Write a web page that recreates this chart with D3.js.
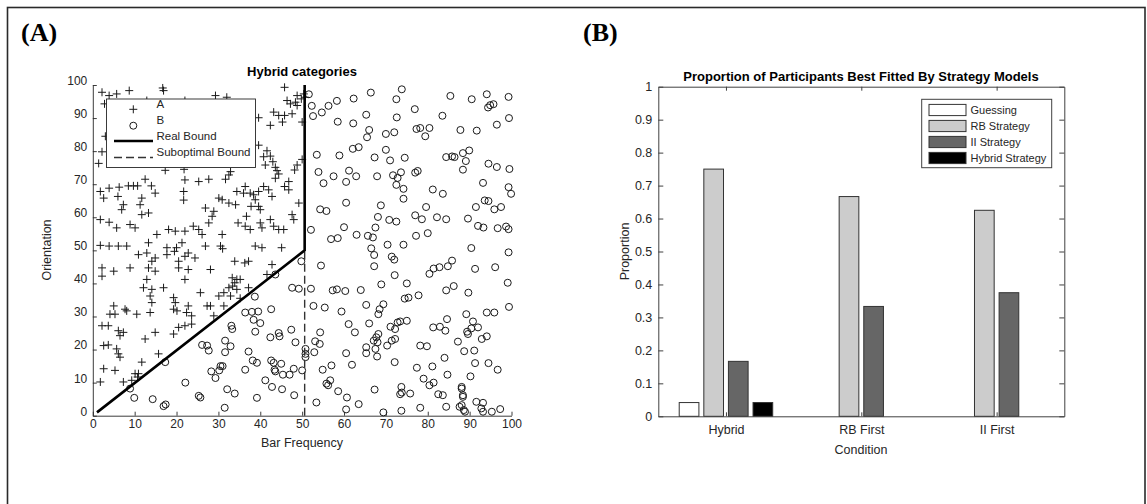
<!DOCTYPE html>
<html><head><meta charset="utf-8">
<script src="https://cdn.jsdelivr.net/npm/d3@7"></script>
<style>
body{margin:0;background:#fff}
svg{display:block}
text{font-family:"Liberation Sans",Arial,sans-serif;fill:#262626}
</style>
</head><body>
<svg id="fig" width="1147" height="504"></svg>
<script>
// ---- Panel A: stimuli of the hybrid category structure ----
// [bar frequency, orientation]
const categoryA = [
[2.2,97.8],[3.9,96.8],[5.7,97.3],[8.7,98.3],[16.7,99.1],[16.9,98.3],[2.8,94.3],[12.9,95.3],[22,95.3],[3,84.5],[2.2,79.8],[1.4,76.3],
[12.5,71.5],[14,69.5],[22,71.3],[21.8,74.5],[17.3,74.2],
[1.8,67.8],[3.9,68.8],[6.3,69.1],[2.6,65.8],[6,66.3],[8.5,69.5],[9.7,69.5],[10.7,69.5],[11.7,65.8],[14.9,67.3],[21.7,67.8],[21.7,65.2],
[7.3,63.8],[6.9,62.3],[11.3,63.8],[13.3,61.3],[11.7,60.8],
[1.8,59.3],[3.9,58.5],[5.7,56.8],[8.9,57.8],[10.1,56.8],[15.3,54.8],[18.1,56.3],[19.7,55.8],[22,55.8],[24,57.3],
[1.8,51.5],[3.9,51.3],[6.1,51.3],[8.1,51.3],[13.3,52.3],[17.7,50.8],[20,50.8],[21.3,52.3],
[29.3,96.8],[32,96.3],[45.8,99.3],[48.8,96.8],[49.8,95.8],[50.4,97.3],[50.7,96.3],[46.4,95.3],[47.2,94.3],[48.4,94.8],[48.8,93.8],
[43.2,91.8],[44.4,90.8],[45.8,90.8],[47.6,91.3],[45.3,88.8],[42.4,87.8],[39.6,90.1],[50,88.8],[39.6,81.8],
[41.6,80.1],[40.8,78.3],[42.4,78.5],[41.2,75.8],[43.6,75.1],[44,74.1],[43,76.8],[48.8,75.8],[48.2,74.3],[50,77.5],[44.4,73.1],[43.6,71.8],[46.8,70.8],
[36.4,69.3],[34.4,67.8],[36,67.3],[37.6,67.3],[39.6,67.8],[40.8,69.3],[42,68.3],[42.8,66.3],[38.4,66.8],[45.8,69.3],[46.8,68.3],
[30.1,65.8],[30.9,65.3],[32.5,64.3],[34.1,63.8],[38.8,65.3],[39.6,63.3],[40,62.3],[37.8,63.3],[49.2,64.3],
[26.9,62.8],[28.9,61.8],[28.5,60.3],[27.7,58.3],
[36.7,60.3],[34.7,58.3],[36.4,57.3],[37.6,56.3],[40,58.3],[40.4,56.8],[42.4,59.3],[43.2,57.3],[44.4,56.3],[45.6,56.3],[47.6,60.8],[48,59.3],
[25.3,56.3],[26.1,54.8],[30.9,54.8],
[26.9,51.3],[30.5,51.3],[31,50.5],[38.8,51.3],[40.4,50.8],[45.1,50.8],
[25.3,70.8],[27.7,71.5],[31.7,71.5],[32.5,72.8],[32.9,73.8],
[10.9,48.7],[12.9,49.2],[14.9,47.7],[17.7,48.7],[19.5,49.7],[22,48.2],[22.8,49.2],[24.4,47.7],
[2.2,44.7],[2.2,42.2],[5,43.7],[8.9,44.7],[13.3,44.7],[14.9,43.7],[14.1,46.7],[20.5,44.7],[22.8,44.2],[20.5,46.7],[22,41.2],
[12.9,41.2],[12.1,38.7],[14.1,38.2],[16.9,38.7],[13.7,36.2],[14.1,34.2],
[5,33.2],[7.7,32.2],[8.1,31.7],[4.1,30.7],[5.3,30.7],[10.5,30.7],[13.7,31.2],
[19.3,35.7],[19.7,34.2],[19.3,32.2],[20.1,31.7],[22.8,33.2],[22.4,31.2],[23.6,30.2],
[2.2,27.2],[3.7,27.2],[6.1,25.7],[7.3,25.2],[6.5,24.2],[14.9,25.2],[19.3,24.7],[20.5,26.7],[22,27.2],[23.6,27.7],
[12.5,23.2],[2.6,21.2],[3.7,21.4],[5.7,20.2],[6.1,18.7],[6.5,17.7],[15.7,18.7],[11.7,16.2],[2.6,14.2],[5.3,13.7],
[10.1,12.7],[10.9,12.7],[10.7,11.7],[1.8,10.2],[7.3,10.2],[9.3,10.7],
[28.1,44.2],[33.9,46.7],[36.3,46.2],[37.2,46.7],[42.8,45.7],[41.6,42.7],
[33.3,41.7],[34.4,41.2],[33.9,40.2],[35.2,41.2],
[32.5,38.7],[34.4,38.2],[33.4,39.2],[37.2,38.7],
[31.3,37.2],[30.1,36.2],[32.9,36.2],[25.7,37.2],
[27.3,33.2],[28.1,33.2],[28.9,30.2],[31.3,33.2],[35.2,35.5]
];
const categoryB = [
[49.8,46.7],[43.6,42.7],[47.6,38.7],[49.2,38.4],[38.7,36],[36.4,31.2],[38,31.4],[39.5,31.5],[38.4,29],[40,28],[42.6,32.2],
[33.1,27.2],[33.3,26.2],[38.8,25.4],[44.4,25],[44.6,24],[42.4,23.7],[47.4,26],[48.4,22.2],[26.1,21.4],[27.3,21.2],[27.7,19.7],
[31.6,22.7],[32.9,21],[31.6,19.2],[37.2,19.4],[38.2,16.7],[39.2,16],[36.4,13.9],[42.6,16.7],[43.2,16],[43.4,13.9],[43.6,13.4],
[45,15.7],[45.4,12.4],[47,12.4],[48,14.2],[50,13.7],[41.2,10.7],[42.8,8.7],[45.2,8],[48.1,6.2],[39.2,5.4],[28.3,13.4],[30.5,15],
[31,15],[30.2,13.7],[29.3,11.4],[32.1,8],[33.9,6.7],[25.3,6],[25.7,5.5],[31.5,2.4],[50.8,20.2],[50.8,18.7],[50.8,17.7],
[8.9,8.2],[9.9,5.4],[14.3,5],[16.9,2.9],[17.4,3.4],[22.1,10],[17.3,16.2],
[51.6,97.2],[52.3,93.7],[52.6,90.6],[54.7,91.7],[56.3,93.7],[58.3,95.2],[62.3,95.9],[66.4,97.7],[72.5,95.7],[73.8,98.7],[76.9,92.7],
[72.6,90.2],[65.3,91],[58.5,88.9],[62.2,88.4],[66,86.4],[65.5,84.2],[70,85.2],[72,85.7],[77.3,86.7],[78.2,87],[80.4,87],[79.4,84.5],
[85.4,96.7],[90.5,95.7],[94.1,97.2],[94.4,93.2],[94.9,93.9],[95.7,94.2],[99.3,96.4],[83.5,90.7],[87.8,86.4],[91.7,86.2],[96.5,88],[99.4,90],
[53.5,78.9],[58.9,78.7],[62.1,80.7],[63.5,81.2],[70,80.4],[67.3,78.1],[71,77.2],[74.5,78],[53.9,73.7],[57.5,72.4],[55.1,70.3],
[61.2,74.1],[62.9,72.4],[60.5,70.7],[67.9,72.4],[71.7,72.7],[72.8,71.9],[73.6,73.6],[72.5,69.8],[77,73.5],[77.6,74],[68.8,63.6],
[74.2,68.6],[74.2,65.6],[81.2,68.4],[83.6,67.1],
[84.4,78.2],[85.8,78.4],[86.4,78.2],[88.4,79.4],[89.9,80.2],[89.1,77],[88.4,74.4],[94.5,76.2],[96.5,75.2],[99.5,74.6],[93.2,70.4],
[99.3,69.1],[99.9,67.1],[93.6,65.1],[94.5,64.9],[91.5,63.1],[95.9,62.4],[97.5,63.1],
[60.5,64.4],[54.3,62.4],[55.8,61.9],[79.6,63.1],[77,60.6],[78.6,59.4],[82.2,60],[84.4,59.4],[89.6,59.6],[68.1,60.1],[70.8,59.2],
[72.5,58.7],[52.1,56.2],[60,57],[67.5,56.9],[92,57.4],[93.3,56.9],[96.7,56.7],[98.7,57.2],[99.3,56.4],[56.9,53.4],[58.5,53.7],
[63,54.7],[65.7,54.4],[66.9,53.9],[77.2,54.4],[80,55.2],[70.4,51.7],[74.2,51.7],[66.5,50.6],[67.2,48.6],[71.4,48.1],[90.4,50.7],[99.3,49.4],
[54.5,45.4],[67.2,45.2],[72,47.2],[72.1,42.5],[80.4,42.9],[81.4,44.5],[82.8,44.9],[84.8,45.2],[85.8,46.9],[91.3,44.4],[96.1,44.9],
[99.1,40.2],[99.4,32.9],[52.1,38.4],[57.3,37.9],[58.3,38.2],[60.3,37.7],[64,38],[68.9,39.7],[75,40],[77.8,36.4],[74.5,35.4],
[75.4,35.7],[84.4,37.9],[86.2,39.2],[89.7,37.2],[52.7,33.2],[55.4,32.7],[59.4,31.5],[65.3,33.5],[68.5,32.2],[68.2,30.7],[69.4,33.7],
[66,27.9],[61.1,27.7],[62.6,25.2],[71.1,26.9],[72.2,26.2],[72.8,28.2],[73.4,28.5],[75,28.7],[71.4,22.7],[72.2,23.2],[70.3,21.2],
[68.2,24.7],[67.7,23.7],[67.1,22.7],[68,22.2],[67.5,20.2],[65.3,20.7],[65.3,18.9],[67.9,17.9],[60.5,18.9],[61.9,15.4],[54.3,25.2],
[53.1,22.5],[54.2,21.7],[52.9,19.2],[54.9,13.9],[57,15.2],[55.8,9.7],[56.7,10.7],[56.2,9.2],[58.6,7.4],[60.7,5.5],[60.5,1.9],
[53.4,4],[63.5,3.5],[67.3,7.9],[69.4,1],[72.1,16.2],[73.7,8.7],[73.4,6.5],[73.8,7],[75.8,6.7],[73.7,1.5],[77.4,14.5],[78.2,21.2],
[79.8,21],[79,11.2],[80.4,9.2],[81.4,10],[78.2,2.4],[81.1,14.9],[82.5,6.5],[83.6,6.2],[84.4,2.7],[84,17.5],[84.7,12.4],[81.3,26.7],
[82.9,26.9],[84.2,25.7],[84.6,29.2],[87.2,22.4],[89.2,30.7],[90.8,28.5],[90.4,26.4],[89.4,25.4],[89.6,24.7],[92,26.7],[94.1,31.2],
[95.9,31.2],[92.9,23.2],[94.1,24],[88.7,19.5],[91.1,19.7],[91.3,15.9],[94.5,15.9],[96.7,13.9],[90.2,11.9],[88.1,8.7],[88.1,8.2],
[88.4,6.2],[88.4,5.7],[88.1,3.2],[88.6,1.7],[88.9,1.2],[87.6,2.7],[91.6,4.2],[93.2,3.9],[92.8,2.2],[93.2,1.2],[95.3,1.2],[97.3,2]
];
// category boundaries
const realBoundX = [1, 50.6, 50.6];
const realBoundY = [1, 50, 100];
const subBoundX = [50.6, 50.6];
const subBoundY = [0, 50];
const ticksA = [0,10,20,30,40,50,60,70,80,90,100];
const legendA = ["A","B","Real Bound","Suboptimal Bound"];

// ---- Panel B: model fits per condition ----
const conditions = ["Hybrid","RB First","II First"];
const strategies = ["Guessing","RB Strategy","II Strategy","Hybrid Strategy"];
const guessing = [0.0417, 0, 0];
const rbStrategy = [0.75, 0.6667, 0.625];
const iiStrategy = [0.1667, 0.3333, 0.375];
const hybridStrategy = [0.0417, 0, 0];
const ticksB = [0,0.1,0.2,0.3,0.4,0.5,0.6,0.7,0.8,0.9,1];

const svg = d3.select("#fig");
const axisColor = "#262626";

// figure frame
svg.append("rect").attr("x",7.5).attr("y",7.5).attr("width",1137.5).attr("height",520)
  .attr("fill","none").attr("stroke","#2a2a2a").attr("stroke-width",1.6);

svg.append("text").attr("x",21).attr("y",41).text("(A)")
  .style("font-family","'Liberation Serif','Times New Roman',serif").style("font-weight","bold")
  .style("font-size","26px").style("fill","#000");
svg.append("text").attr("x",583).attr("y",41).text("(B)")
  .style("font-family","'Liberation Serif','Times New Roman',serif").style("font-weight","bold")
  .style("font-size","26px").style("fill","#000");

// ================= Panel A =================
const xA = d3.scaleLinear().domain([0,100]).range([92.8,511.5]);
const yA = d3.scaleLinear().domain([0,100]).range([415.7,85]);
const gA = svg.append("g");

const pts = gA.append("g");
pts.selectAll("path.plus").data(categoryA).join("path").attr("class","plus")
  .attr("d", d => `M${xA(d[0])-4},${yA(d[1])}h8M${xA(d[0])},${yA(d[1])-4}v8`)
  .attr("stroke","#1a1a1a").attr("stroke-width",1).attr("fill","none");
pts.selectAll("circle").data(categoryB).join("circle")
  .attr("cx", d => xA(d[0])).attr("cy", d => yA(d[1])).attr("r",3.5)
  .attr("fill","none").attr("stroke","#1a1a1a").attr("stroke-width",1);

const line = d3.line().x(d => xA(d[0])).y(d => yA(d[1]));
gA.append("path").datum(subBoundX.map((v,i)=>[v,subBoundY[i]])).attr("d",line)
  .attr("fill","none").attr("stroke","#333").attr("stroke-width",1.4).attr("stroke-dasharray","8,4");
gA.append("path").datum(realBoundX.map((v,i)=>[v,realBoundY[i]])).attr("d",line)
  .attr("fill","none").attr("stroke","#000").attr("stroke-width",2.6);

const axA_x = gA.append("g").attr("transform",`translate(0,${yA(0)})`)
  .call(d3.axisBottom(xA).tickValues(ticksA).tickSize(-4).tickSizeOuter(0).tickPadding(4));
const axA_y = gA.append("g").attr("transform",`translate(${xA(0)},0)`)
  .call(d3.axisLeft(yA).tickValues(ticksA).tickSize(-4).tickSizeOuter(0).tickPadding(5.5));
axA_y.selectAll(".tick text").attr("dy","-0.05em");
[axA_x, axA_y].forEach(a => {
  a.selectAll("path.domain").attr("stroke",axisColor).attr("stroke-width",0.9);
  a.selectAll(".tick line").attr("stroke",axisColor).attr("stroke-width",0.9);
  a.selectAll(".tick text").style("font-size","12px").style("fill",axisColor);
});

gA.append("text").attr("x",302).attr("y",76).attr("text-anchor","middle")
  .style("font-weight","bold").style("font-size","13px").style("fill","#000").text("Hybrid categories");
gA.append("text").attr("x",302).attr("y",446.5).attr("text-anchor","middle")
  .style("font-size","12.5px").text("Bar Frequency");
gA.append("text").attr("transform","translate(51,250) rotate(-90)").attr("text-anchor","middle")
  .style("font-size","12.5px").text("Orientation");

// legend A
const lgA = gA.append("g");
lgA.append("rect").attr("x",106.5).attr("y",99).attr("width",149).attr("height",68.5)
  .attr("fill","#fff").attr("stroke",axisColor).attr("stroke-width",0.9);
const lgY = [109.3, 125.7, 141, 157.5];
lgA.append("path").attr("d",`M${133.3-4},${lgY[0]}h8M133.3,${lgY[0]-4}v8`).attr("stroke","#1a1a1a").attr("fill","none");
lgA.append("circle").attr("cx",133.3).attr("cy",lgY[1]).attr("r",3.5).attr("fill","none").attr("stroke","#1a1a1a");
lgA.append("line").attr("x1",114).attr("x2",153).attr("y1",lgY[2]).attr("y2",lgY[2]).attr("stroke","#000").attr("stroke-width",2.6);
lgA.append("line").attr("x1",114).attr("x2",153).attr("y1",lgY[3]).attr("y2",lgY[3]).attr("stroke","#333").attr("stroke-width",1.4).attr("stroke-dasharray","8,4");
lgA.selectAll("text").data(legendA).join("text")
  .attr("x",156.5).attr("y",(d,i)=>lgY[i]-5.5).attr("dy","0.35em")
  .style("font-size","11.5px").text(d=>d);

// ================= Panel B =================
const xB = d3.scaleLinear().domain([0.5,3.5]).range([658.3,1064.3]);
const yB = d3.scaleLinear().domain([0,1]).range([416.3,86.7]);
const gB = svg.append("g");
const series = [guessing, rbStrategy, iiStrategy, hybridStrategy];
const fills = ["#ffffff","#cccccc","#666666","#000000"];
const groupW = 4/5.5, slot = groupW/4, barW = slot*0.8;

series.forEach((vals,j) => {
  gB.append("g").selectAll("rect").data(vals.map((v,i)=>({v,i})).filter(d=>d.v>0)).join("rect")
    .attr("x", d => xB(d.i+1 + (j-1.5)*slot - barW/2))
    .attr("width", d => xB(barW) - xB(0))
    .attr("y", d => yB(d.v)).attr("height", d => yB(0)-yB(d.v))
    .attr("fill", fills[j]).attr("stroke","#333").attr("stroke-width",1);
});

const catTicks = [1,2,3];
const axB_x = gB.append("g").attr("transform",`translate(0,${yB(0)})`)
  .call(d3.axisBottom(xB).tickValues(catTicks).tickFormat((d,i)=>conditions[i]).tickSize(-4).tickSizeOuter(0).tickPadding(9));
const axB_top = gB.append("g").attr("transform",`translate(0,${yB(1)})`)
  .call(d3.axisTop(xB).tickValues(catTicks).tickFormat("").tickSize(-4).tickSizeOuter(0));
const axB_y = gB.append("g").attr("transform",`translate(${xB(0.5)},0)`)
  .call(d3.axisLeft(yB).tickValues(ticksB).tickFormat(d3.format("~g")).tickSize(-5).tickSizeOuter(0).tickPadding(6));
const axB_r = gB.append("g").attr("transform",`translate(${xB(3.5)},0)`)
  .call(d3.axisRight(yB).tickValues(ticksB).tickFormat("").tickSize(-5).tickSizeOuter(0));
[axB_x, axB_top, axB_y, axB_r].forEach(a => {
  a.selectAll("path.domain").attr("stroke","#404040").attr("stroke-width",1);
  a.selectAll(".tick line").attr("stroke","#404040").attr("stroke-width",1);
  a.selectAll(".tick text").style("font-size","12.5px").style("fill",axisColor);
});

gB.append("text").attr("x",861).attr("y",80.5).attr("text-anchor","middle")
  .style("font-weight","bold").style("font-size","13px").style("fill","#000")
  .text("Proportion of Participants Best Fitted By Strategy Models");
gB.append("text").attr("x",861).attr("y",454).attr("text-anchor","middle")
  .style("font-size","12.5px").text("Condition");
gB.append("text").attr("transform","translate(629,251.5) rotate(-90)").attr("text-anchor","middle")
  .style("font-size","12.5px").text("Proportion");

// legend B
const lgB = gB.append("g");
lgB.append("rect").attr("x",921.7).attr("y",99.3).attr("width",130).attr("height",68.4)
  .attr("fill","#fff").attr("stroke","#404040").attr("stroke-width",1);
const lgBY = [110,126,142,158];
strategies.forEach((s,j) => {
  lgB.append("rect").attr("x",929).attr("y",lgBY[j]-5.6).attr("width",37).attr("height",11.2)
    .attr("fill",fills[j]).attr("stroke","#333").attr("stroke-width",1);
  lgB.append("text").attr("x",970.5).attr("y",lgBY[j]).attr("dy","0.35em")
    .style("font-size","11px").text(s);
});
</script>
</body></html>
